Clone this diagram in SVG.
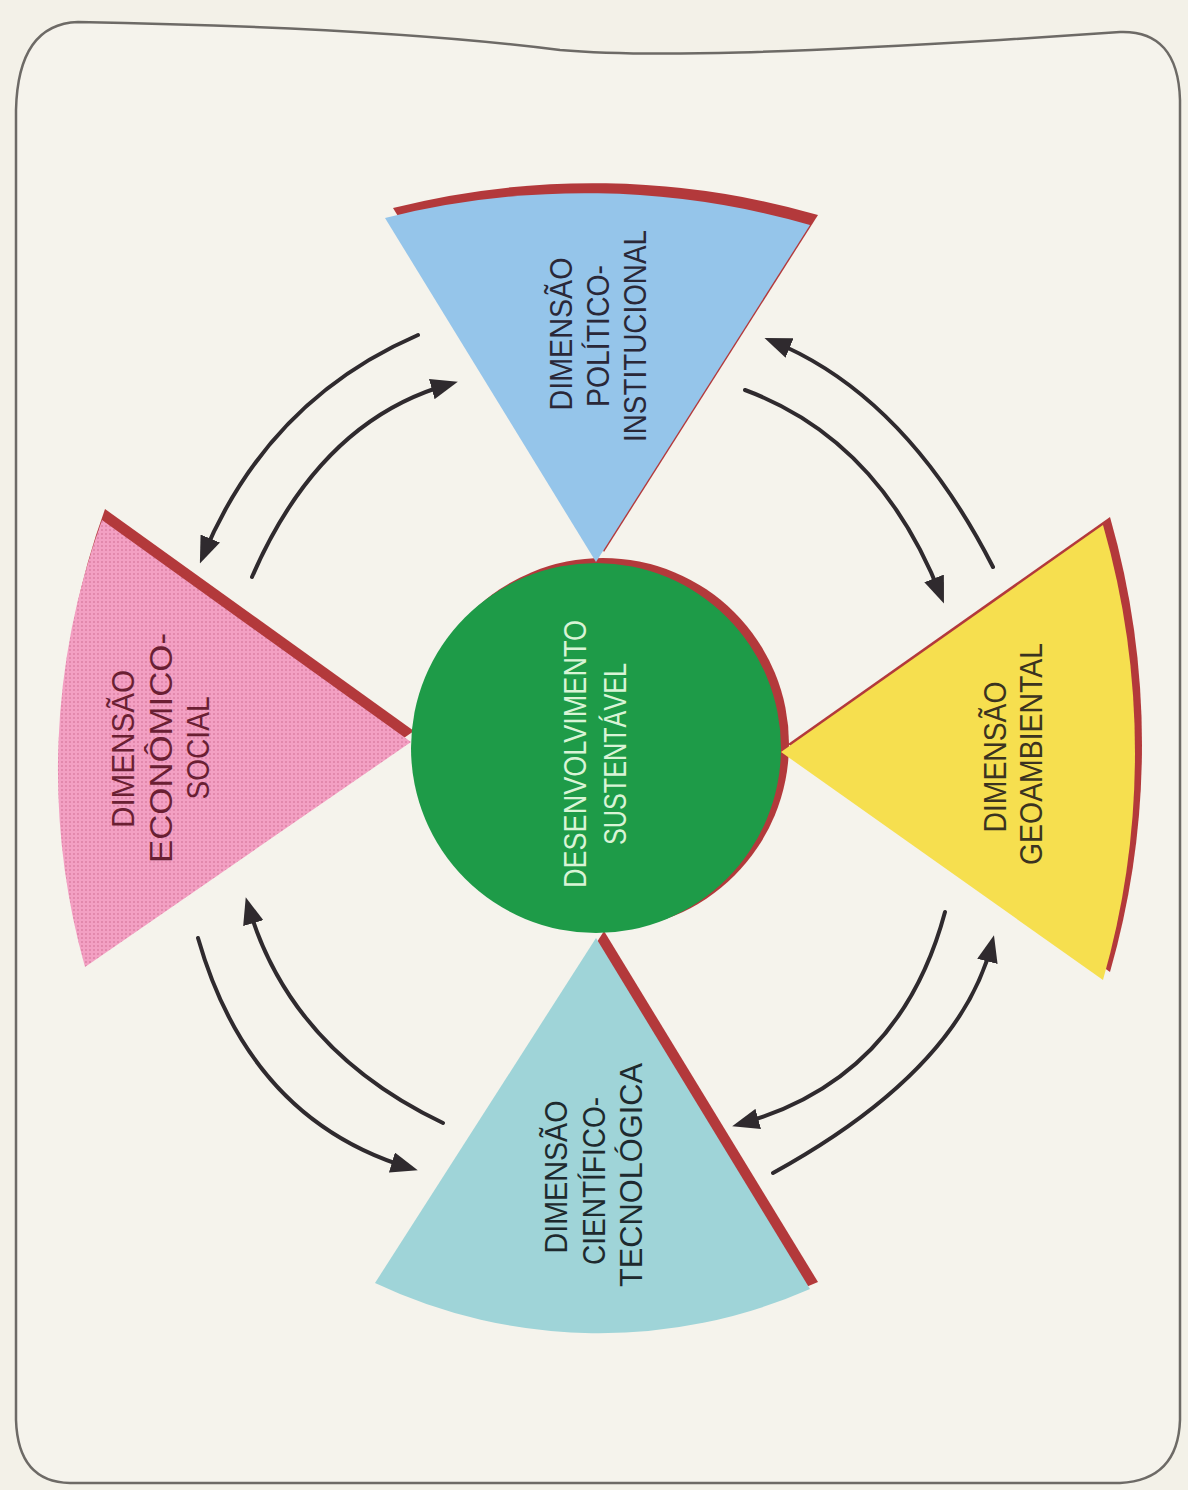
<svg xmlns="http://www.w3.org/2000/svg" width="1188" height="1490" viewBox="0 0 1188 1490">
  <defs>
    <style>
      .lbl { font-family: "Liberation Sans", Arial, sans-serif; font-size: 32px; text-anchor: middle; }
      .core { font-family: "Liberation Sans", Arial, sans-serif; font-size: 32px; text-anchor: middle; fill: #d9f4d6; }
      .shadow { fill: #b3393b; }
      .link { fill: none; stroke: #2f2a2e; stroke-width: 4; stroke-linecap: round; marker-end: url(#head); }
    </style>
    <marker id="head" viewBox="0 0 10 10" refX="7" refY="5" markerWidth="27" markerHeight="21" markerUnits="userSpaceOnUse" orient="auto" preserveAspectRatio="none">
      <path d="M0,0 L10,5 L0,10 Z" fill="#2f2a2e"/>
    </marker>
    <pattern id="halftone" width="4" height="4" patternUnits="userSpaceOnUse">
      <rect width="4" height="4" fill="#f3a0c3"/>
      <circle cx="2" cy="2" r="0.95" fill="#dc7fa3"/>
    </pattern>
  </defs>

  <!-- page -->
  <rect x="0" y="0" width="1188" height="1490" fill="#f3f1e8"/>
  <path d="M78,22 C300,26 450,36 560,50 C650,58 800,52 1000,40 L1120,32 Q1178,30 1180,100 L1180,1420 Q1178,1480 1120,1483 L70,1483 Q18,1482 16,1420 L16,110 Q18,24 78,22 Z"
        fill="#f5f3ec" stroke="#6d6a66" stroke-width="2.5"/>

  <!-- ring behind the centre -->
  <circle id="core-ring" cx="603" cy="744" r="186" fill="#b3393b"/>

  <!-- top: politico-institucional -->
  <g id="node-politico">
    <path class="shadow" transform="translate(8,-10)" d="M596,562 L385,218 A816,816 0 0 1 810,225 Z"/>
    <path d="M596,562 L385,218 A816,816 0 0 1 810,225 Z" fill="#95c5ea"/>
    <g class="lbl" fill="#2a2838">
      <text transform="translate(572,334) rotate(-90)" textLength="153" lengthAdjust="spacingAndGlyphs">DIMENSÃO</text>
      <text transform="translate(609,336) rotate(-90)" textLength="142" lengthAdjust="spacingAndGlyphs">POLÍTICO-</text>
      <text transform="translate(646,336) rotate(-90)" textLength="212" lengthAdjust="spacingAndGlyphs">INSTITUCIONAL</text>
    </g>
  </g>

  <!-- left: economico-social -->
  <g id="node-economico">
    <path class="shadow" transform="translate(3,-11)" d="M411,742 L102,520 A731,731 0 0 0 85,967 Z"/>
    <path d="M411,742 L102,520 A731,731 0 0 0 85,967 Z" fill="url(#halftone)"/>
    <g class="lbl" fill="#6a1f33">
      <text transform="translate(134,749) rotate(-90)" textLength="158" lengthAdjust="spacingAndGlyphs">DIMENSÃO</text>
      <text transform="translate(172,748) rotate(-90)" textLength="230" lengthAdjust="spacingAndGlyphs">ECONÔMICO-</text>
      <text transform="translate(209,748) rotate(-90)" textLength="103" lengthAdjust="spacingAndGlyphs">SOCIAL</text>
    </g>
  </g>

  <!-- right: geoambiental -->
  <g id="node-geoambiental">
    <path class="shadow" transform="translate(7,-8)" d="M781,752 L1103,525 A825,825 0 0 1 1103,980 Z"/>
    <path d="M781,752 L1103,525 A825,825 0 0 1 1103,980 Z" fill="#f6df4f"/>
    <g class="lbl" fill="#3b3320">
      <text transform="translate(1006,757) rotate(-90)" textLength="151" lengthAdjust="spacingAndGlyphs">DIMENSÃO</text>
      <text transform="translate(1042,754) rotate(-90)" textLength="222" lengthAdjust="spacingAndGlyphs">GEOAMBIENTAL</text>
    </g>
  </g>

  <!-- bottom: cientifico-tecnologica -->
  <g id="node-cientifico">
    <path class="shadow" transform="translate(8,-7)" d="M596,938 L810,1289 A525,525 0 0 1 375,1283 Z"/>
    <path d="M596,938 L810,1289 A525,525 0 0 1 375,1283 Z" fill="#9fd4d8"/>
    <g class="lbl" fill="#1e2a2e">
      <text transform="translate(567,1177) rotate(-90)" textLength="153" lengthAdjust="spacingAndGlyphs">DIMENSÃO</text>
      <text transform="translate(605,1181) rotate(-90)" textLength="168" lengthAdjust="spacingAndGlyphs">CIENTÍFICO-</text>
      <text transform="translate(642,1175) rotate(-90)" textLength="224" lengthAdjust="spacingAndGlyphs">TECNOLÓGICA</text>
    </g>
  </g>

  <!-- centre: desenvolvimento sustentavel -->
  <g id="node-centro">
    <circle cx="596" cy="748" r="185" fill="#1e9b48"/>
    <text class="core" transform="translate(586,754) rotate(-90)" textLength="268" lengthAdjust="spacingAndGlyphs">DESENVOLVIMENTO</text>
    <text class="core" transform="translate(626,754) rotate(-90)" textLength="182" lengthAdjust="spacingAndGlyphs">SUSTENTÁVEL</text>
  </g>

  <!-- two-way links between neighbouring dimensions -->
  <g id="connectors">
    <path class="link" d="M418,335 Q268,400 203,556"/>
    <path class="link" d="M252,577 Q320,420 450,384"/>
    <path class="link" d="M993,567 Q905,395 772,341"/>
    <path class="link" d="M745,390 Q880,440 941,596"/>
    <path class="link" d="M443,1123 Q290,1050 248,905"/>
    <path class="link" d="M198,938 Q250,1120 410,1168"/>
    <path class="link" d="M945,912 Q900,1080 740,1124"/>
    <path class="link" d="M773,1173 Q960,1070 992,943"/>
  </g>
</svg>
